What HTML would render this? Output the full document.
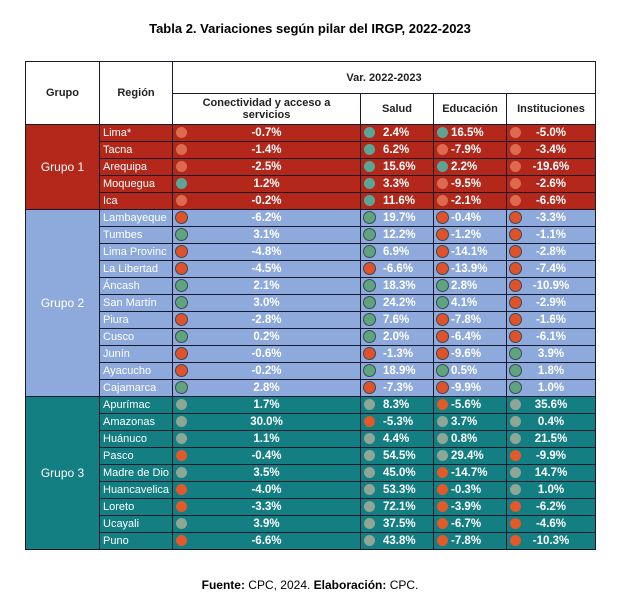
<!DOCTYPE html>
<html><head><meta charset="utf-8">
<style>
body{margin:0;width:620px;height:603px;background:#fff;position:relative;font-family:"Liberation Sans",sans-serif;overflow:hidden}
.t{position:absolute;left:0;width:620px;text-align:center;font-weight:bold;font-size:13px;color:#000}
.f{position:absolute;left:0;width:620px;text-align:center;font-size:12px;color:#000}
.c{position:absolute;box-sizing:border-box;border:1px solid #1a1a2a;display:flex;align-items:center;justify-content:center;color:#fff;font-size:11px}
.h{color:#222;font-weight:bold;font-size:11px;background:#fff;text-align:center;line-height:12px}
.dot{position:absolute;width:11px;height:11px;border-radius:50%;top:2px;left:3px}
.v{font-weight:bold;font-size:11.5px}
.r{justify-content:flex-start;padding-left:3px}
</style></head><body>
<div class="t" style="top:21px">Tabla 2. Variaciones según pilar del IRGP, 2022-2023</div>
<div id="tbl"></div>
<div class="f" style="top:578px"><b>Fuente:</b> CPC, 2024. <b>Elaboración:</b> CPC.</div>
<script>
const regions=["Lima*","Tacna","Arequipa","Moquegua","Ica","Lambayeque","Tumbes","Lima Provinc","La Libertad","Áncash","San Martín","Piura","Cusco","Junín","Ayacucho","Cajamarca","Apurímac","Amazonas","Huánuco","Pasco","Madre de Dio","Huancavelica","Loreto","Ucayali","Puno"];
const groups=["Grupo 1","Grupo 2","Grupo 3"];
const groupSizes=[5,11,9];
const conectividad=[-0.7,-1.4,-2.5,1.2,-0.2,-6.2,3.1,-4.8,-4.5,2.1,3.0,-2.8,0.2,-0.6,-0.2,2.8,1.7,30.0,1.1,-0.4,3.5,-4.0,-3.3,3.9,-6.6];
const salud=[2.4,6.2,15.6,3.3,11.6,19.7,12.2,6.9,-6.6,18.3,24.2,7.6,2.0,-1.3,18.9,-7.3,8.3,-5.3,4.4,54.5,45.0,53.3,72.1,37.5,43.8];
const educacion=[16.5,-7.9,2.2,-9.5,-2.1,-0.4,-1.2,-14.1,-13.9,2.8,4.1,-7.8,-6.4,-9.6,0.5,-9.9,-5.6,3.7,0.8,29.4,-14.7,-0.3,-3.9,-6.7,-7.8];
const instituciones=[-5.0,-3.4,-19.6,-2.6,-6.6,-3.3,-1.1,-2.8,-7.4,-10.9,-2.9,-1.6,-6.1,3.9,1.8,1.0,35.6,0.4,21.5,-9.9,14.7,1.0,-6.2,-4.6,-10.3];

const T=document.getElementById('tbl');
const X=[25,99,172,360,433,506,595], top0=61, midH=93, dataY=124, rh=17;
const bg=["#B3281B","#8EA9DB","#137F83"];
const pos=[["#5BA597","#DD6A4C"],["#5FA37F","#E0532A"],["#8DA695","#E2592A"]];
function cell(x,y,w,h,cls,html,name){
  const d=document.createElement('div');d.className='c '+cls;
  d.style.left=x+'px';d.style.top=y+'px';d.style.width=(w+1)+'px';d.style.height=(h+1)+'px';
  d.innerHTML=html;
  
  
  T.appendChild(d);return d;
}
cell(X[0],top0,X[1]-X[0],dataY-top0,'h','Grupo','header-grupo');
cell(X[1],top0,X[2]-X[1],dataY-top0,'h','Región','header-region');
cell(X[2],top0,X[6]-X[2],midH-top0,'h','Var. 2022-2023','header-var');
cell(X[2],midH,X[3]-X[2],dataY-midH,'h','Conectividad y acceso a<br>servicios','header-conectividad');
cell(X[3],midH,X[4]-X[3],dataY-midH,'h','Salud','header-salud');
cell(X[4],midH,X[5]-X[4],dataY-midH,'h','Educación','header-educacion');
cell(X[5],midH,X[6]-X[5],dataY-midH,'h','Instituciones','header-instituciones');
const cols=[conectividad,salud,educacion,instituciones];
const colNames=['conectividad','salud','educacion','instituciones'];
let row=0;
groups.forEach((g,gi)=>{
  const y0=dataY+row*rh,n=groupSizes[gi];
  const gc=cell(X[0],y0,X[1]-X[0],n*rh,'',g,'group-label');
  gc.style.background=bg[gi];gc.style.fontSize='12px';
  if(gi===1)gc.style.color='#fff';
  for(let k=0;k<n;k++,row++){
    const y=dataY+row*rh;
    const rc=cell(X[1],y,X[2]-X[1],rh,'r',regions[row],'region-name');
    rc.style.background=bg[gi];rc.style.overflow='hidden';rc.style.whiteSpace='nowrap';
    cols.forEach((arr,ci)=>{
      const v=arr[row];
      const c=cell(X[2+ci],y,X[3+ci]-X[2+ci],rh,'v',v.toFixed(1)+'%',colNames[ci]+'-value');
      c.style.background=bg[gi];
      if(ci===1||ci===2)c.style.justifyContent='flex-start',c.style.paddingLeft=(ci===1?'22px':'17px');
      const d=document.createElement('span');d.className='dot';
      
      
      d.style.background=v>=0?pos[gi][0]:pos[gi][1];
      if(gi===1)d.style.boxShadow='0 0 0 1px #3a4a5a';
      c.appendChild(d);
    });
  }
});
</script>
</body></html>
